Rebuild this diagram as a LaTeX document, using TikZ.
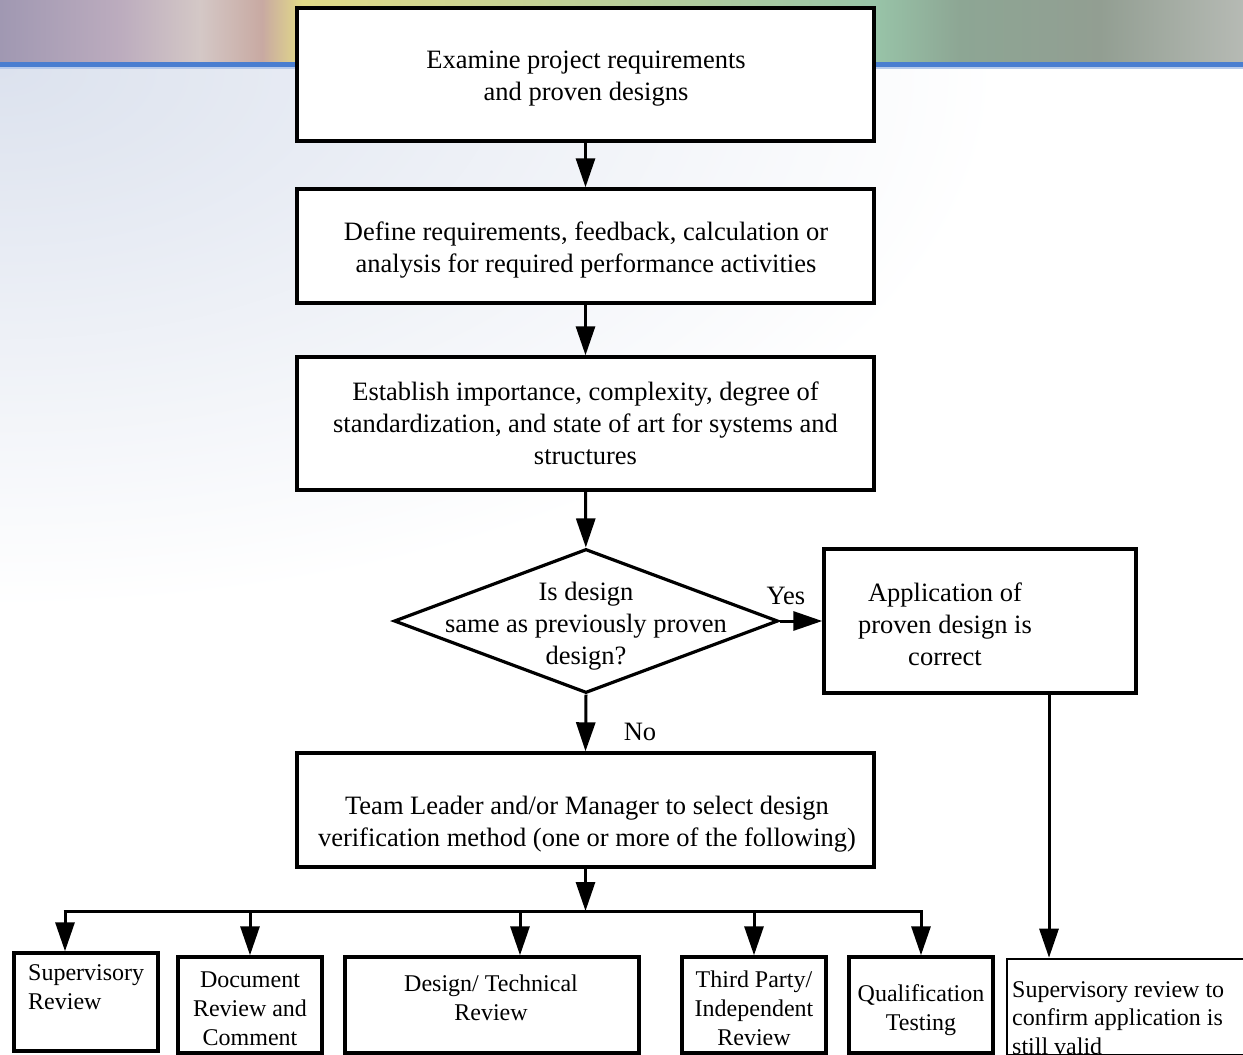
\documentclass[tikz,border=0pt]{standalone}
\usepackage{fontspec}
\setmainfont{Liberation Serif}
\usetikzlibrary{shapes.geometric,arrows.meta}

\definecolor{bandA}{HTML}{A098B2}
\definecolor{bandB}{HTML}{BCACBE}
\definecolor{bandC}{HTML}{D4C8C6}
\definecolor{bandD}{HTML}{C8A9A2}
\definecolor{bandE}{HTML}{E2DA88}
\definecolor{bandF}{HTML}{98C4A8}
\definecolor{bandG}{HTML}{8DA694}
\definecolor{bandH}{HTML}{929E92}
\definecolor{bandI}{HTML}{B6BAB4}
\definecolor{rule}{HTML}{4A7ED0}
\definecolor{haze}{HTML}{DCE2EE}

\tikzset{
  box/.style={draw, line width=3.4pt, fill=white, inner sep=0pt},
  bigtxt/.style={font=\fontsize{26.5}{32}\selectfont, align=center, inner sep=0pt},
  smalltxt/.style={font=\fontsize{24}{28.8}\selectfont, align=center, inner sep=0pt},
  flow/.style={line width=3pt, -{Triangle[length=29pt, width=19pt]}},
  wire/.style={line width=3pt}
}

\begin{document}
\begin{tikzpicture}[x=1pt, y=-1pt]
\useasboundingbox (0,0) rectangle (1243,1055);

% header band
\shade[left color=bandA, right color=bandB] (0,0) rectangle (120,63);
\shade[left color=bandB, right color=bandC] (120,0) rectangle (200,63);
\shade[left color=bandC, right color=bandD] (200,0) rectangle (262,63);
\shade[left color=bandD, right color=bandE] (262,0) rectangle (302,63);
\shade[left color=bandE, right color=bandF] (302,0) rectangle (874,63);
\shade[left color=bandF, right color=bandG] (874,0) rectangle (960,63);
\shade[left color=bandG, right color=bandH] (960,0) rectangle (1100,63);
\shade[left color=bandH, right color=bandI] (1100,0) rectangle (1243,63);
\fill[rule] (0,62) rectangle (1243,67);
\fill[rule!40] (0,67) rectangle (1243,69);

% soft haze below the band
\begin{scope}
  \clip (0,69) rectangle (1243,1055);
  \shade[inner color=haze, outer color=white] (0,69) ellipse [x radius=1000, y radius=540];
\end{scope}

% main column
\node[box, minimum width=577pt, minimum height=133pt] (examine) at (585.5,74.5) {};
\node[bigtxt] (examinetxt) at (586,79)
  {Examine project requirements\\and proven designs};
\node[box, minimum width=577pt, minimum height=114pt] (define) at (585.5,246) {};
\node[bigtxt] (definetxt) at (586,250)
  {Define requirements, feedback, calculation or\\analysis for required performance activities};
\node[box, bigtxt, minimum width=577pt, minimum height=133pt] (establish) at (585.5,423.5)
  {Establish importance, complexity, degree of\\standardization, and state of art for systems and\\structures};
\node[draw, diamond, line width=3.2pt, fill=white, inner sep=0pt,
      minimum width=384pt, minimum height=144pt] (decide) at (586,621) {};
\node[bigtxt] (decidetxt) at (586,626) {Is design\\same as previously proven\\design?};
\node[box, minimum width=312pt, minimum height=144pt] (proven) at (980,621) {};
\node[bigtxt] (proventxt) at (945,624) {Application of\\proven design is\\correct};
\node[box, minimum width=577pt, minimum height=114pt] (team) at (585.5,810) {};
\node[bigtxt] (teamtxt) at (587,824) {Team Leader and/or Manager to select design\\verification method (one or more of the following)};

% verification methods
\node[box, minimum width=144pt, minimum height=98pt] (supv) at (86,1002) {};
\node[smalltxt, align=left, anchor=west] (supvtxt) at (28,987) {Supervisory\\Review};
\node[box, minimum width=144pt, minimum height=96pt] (docrev) at (250,1005) {};
\node[smalltxt] (doctxt) at (250,1009) {Document\\Review and\\Comment};
\node[box, minimum width=294pt, minimum height=96pt] (techrev) at (492,1005) {};
\node[smalltxt] (techtxt) at (491,997.5) {Design/ Technical\\Review};
\node[box, minimum width=144pt, minimum height=96pt] (thirdrev) at (754,1005) {};
\node[smalltxt] (thirdtxt) at (754,1008) {Third Party/\\Independent\\Review};
\node[box, minimum width=144pt, minimum height=96pt] (qualtest) at (921,1005) {};
\node[smalltxt] (qualtxt) at (921,1010) {Qualification\\Testing};
\node[box, line width=2.6pt, minimum width=245pt, minimum height=96pt] (confirm) at (1129.5,1007) {};
\node[smalltxt, align=left, anchor=west] (confirmtxt) at (1012,1018)
  {Supervisory review to\\confirm application is\\still valid};

% connectors
\draw[flow] (examine) -- (define);
\draw[flow] (define) -- (establish);
\draw[flow] (establish) -- (decide);
\draw[flow] (decide.east) -- (proven.west |- decide.east);
\draw[flow] (decide.south) -- (team.north);
\node[bigtxt] (yes) at (786,596) {Yes};
\node[bigtxt] (no) at (640,732) {No};

\coordinate (busL) at (65,911);
\coordinate (busR) at (921,911);
\coordinate (busD) at (250,911);
\coordinate (busT) at (520,911);
\coordinate (busI) at (754,911);
\draw[wire] ([xshift=-1.5pt]busL) -- ([xshift=1.5pt]busR);
\draw[flow] (team.south) -- (team.south |- busL);
\draw[flow] (busL) -- (busL |- supv.north);
\draw[flow] (busD) -- (docrev.north);
\draw[flow] (busT) -- (busT |- techrev.north);
\draw[flow] (busI) -- (thirdrev.north);
\draw[flow] (busR) -- (qualtest.north);

\coordinate (drop) at (1049,693);
\draw[flow] (drop) -- (drop |- confirm.north);
\end{tikzpicture}
\end{document}
